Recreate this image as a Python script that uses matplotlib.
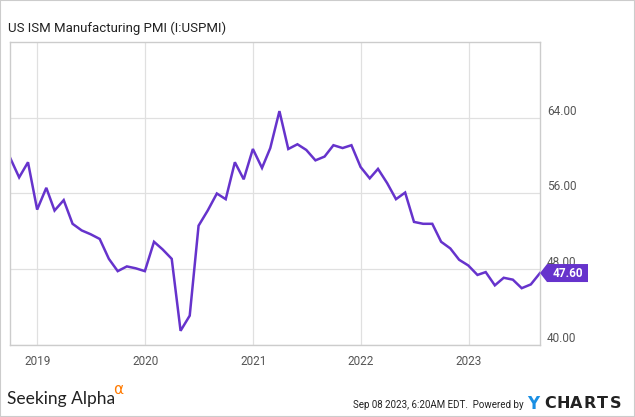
import numpy as np
import pandas as pd
import matplotlib
matplotlib.use("Agg")
import matplotlib.pyplot as plt
from matplotlib.patches import Rectangle, Polygon

plt.rcParams['font.family'] = ['Roboto', 'DejaVu Sans']

# monthly PMI, Sep 2018 .. Aug 2023 (plotted at month end)
months = pd.date_range("2018-09-30", "2023-08-31", freq="ME")
pmi = [59.8, 57.7, 59.3, 54.3,
       56.6, 54.2, 55.3, 52.8, 52.1, 51.7, 51.2, 49.1, 47.8, 48.3, 48.1, 47.8,
       50.9, 50.1, 49.1, 41.5, 43.1, 52.6, 54.2, 56.0, 55.4, 59.3, 57.5, 60.7,
       58.7, 60.8, 64.7, 60.7, 61.2, 60.6, 59.5, 59.9, 61.1, 60.8, 61.1, 58.8,
       57.6, 58.6, 57.1, 55.4, 56.1, 53.0, 52.8, 52.8, 50.9, 50.2, 49.0, 48.4,
       47.4, 47.7, 46.3, 47.1, 46.9, 46.0, 46.4, 47.6]
yticks = [40, 48, 56, 64]
years = ["2019", "2020", "2021", "2022", "2023"]

purple = "#6633cc"
W, H = 635, 417

fig = plt.figure(figsize=(W / 100, H / 100), dpi=100)
ax = fig.add_axes([10 / W, (H - 345) / H, 530 / W, 303 / H])

ax.plot(months, pmi, color=purple, lw=1.8, solid_joinstyle="miter")
ax.set_xlim(months[0], months[-1])
ax.set_ylim(40, 72)

ax.set_xticks([pd.Timestamp(y + "-01-01") for y in years])
ax.set_xticklabels(years)
ax.set_yticks(yticks)
ax.set_yticklabels([f"{v:.2f}" for v in yticks])
ax.yaxis.tick_right()
ax.tick_params(axis="both", length=0, colors="#555555", labelsize=8.5)
ax.tick_params(axis="y", pad=5)
ax.tick_params(axis="x", pad=7)
for lab in ax.get_yticklabels():
    lab.set_va("bottom")
ax.grid(True, color="#e0e0e0", lw=0.9)
for s in ax.spines.values():
    s.set_color("#cccccc")
    s.set_linewidth(1)

# last value tag
last_y = pmi[-1]
tip = ax.transData.transform((matplotlib.dates.date2num(months[-1]), last_y))
pts = np.array([[0, 0], [7, 9], [48, 9], [48, -9], [7, -9]]) + tip
fig.patches.append(Polygon(pts, closed=True, transform=None, facecolor=purple,
                           edgecolor="none", clip_on=False))
fig.text((tip[0] + 28) / W, tip[1] / H, f"{last_y:.2f}", color="white",
         fontsize=8.5, fontweight="bold", ha="center", va="center")

# title and footer
fig.text(8 / W, 1 - 28 / H, "US ISM Manufacturing PMI (I:USPMI)", fontsize=9.5,
         color="#222222", va="center")
fig.text(7 / W, 1 - 399 / H, "Seeking Alpha", fontsize=12.5, color="#222222",
         va="center", family=["Lato", "DejaVu Sans"])
fig.text(113 / W, 1 - 389 / H, "\u03b1", fontsize=11, color="#ff7a00",
         va="center", family=["DejaVu Sans"])
fig.text(524 / W, 1 - 405 / H, "Sep 08 2023, 6:20AM EDT.  Powered by", fontsize=7,
         color="#222222", ha="right", va="center")
fig.text(533.5 / W, 1 - 404 / H, "Y", fontsize=12, color="#1a8fe3", fontweight="bold",
         ha="center", va="center", family=["DejaVu Sans"])
for i, ch in enumerate("CHARTS"):
    fig.text((550 + i * 13.2) / W, 1 - 404 / H, ch, fontsize=11.5, color="#222222",
             fontweight="bold", ha="center", va="center", family=["DejaVu Sans"])

fig.patches.append(Rectangle((0, 0), 1, 1, transform=fig.transFigure, fill=False,
                             edgecolor="#cccccc", lw=1.5))

fig.savefig("out.png", dpi=100)
